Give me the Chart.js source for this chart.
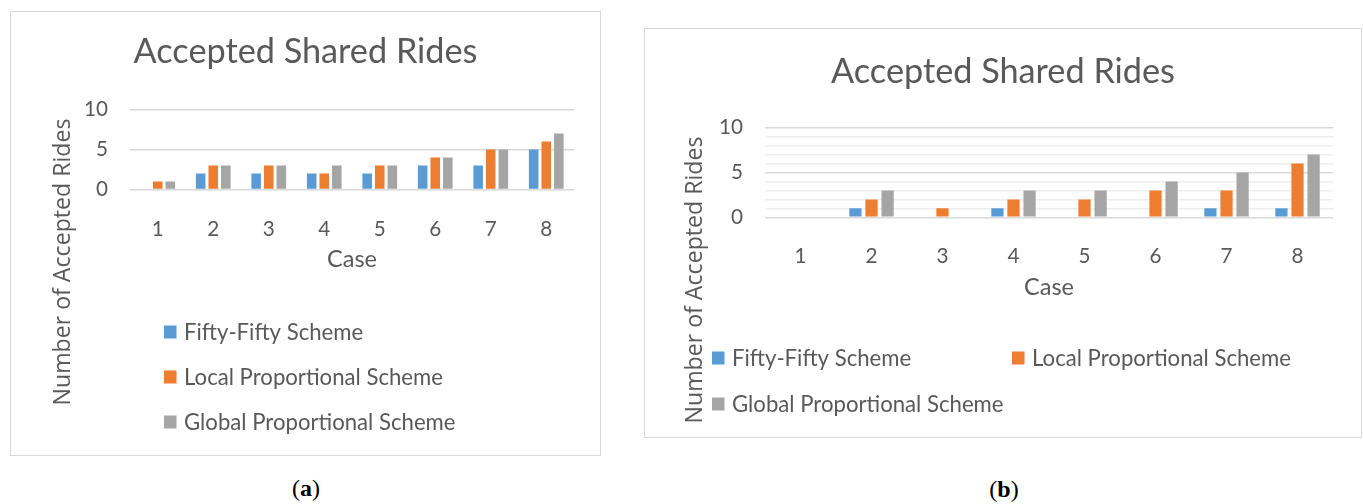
<!DOCTYPE html>
<html>
<head>
<meta charset="utf-8">
<script src="https://cdn.jsdelivr.net/npm/chart.js@4"></script>
<style>
  body { margin: 0; background: #fff; width: 1363px; height: 504px; position: relative; overflow: hidden; }
  .box { position: absolute; border: 1.5px solid #d9d9d9; box-sizing: border-box; }
  canvas { position: absolute; }
  .cap { position: absolute; font: 24px "Liberation Serif", serif; line-height: 24px; color: #000; transform: translateX(-50%); }
</style>
</head>
<body>
<div class="box" style="left:10px;top:11px;width:591px;height:445px"></div>
<canvas id="chartA" width="591" height="445" style="left:10px;top:11px"></canvas>
<div class="box" style="left:644px;top:28px;width:718px;height:410px"></div>
<canvas id="chartB" width="718" height="410" style="left:644px;top:28px"></canvas>
<div class="cap" style="left:306px;top:476px">(<b>a</b>)</div>
<div class="cap" style="left:1004px;top:477px">(<b>b</b>)</div>

<script>
"use strict";

const cases = ["1", "2", "3", "4", "5", "6", "7", "8"];
const seriesNames = ["Fifty-Fifty Scheme", "Local Proportional Scheme", "Global Proportional Scheme"];

// panel (a)
const fiftyA = [0, 2, 2, 2, 2, 3, 3, 5];
const localA = [1, 3, 3, 2, 3, 4, 5, 6];
const globalA = [1, 3, 3, 3, 3, 4, 5, 7];

// panel (b)
const fiftyB = [0, 1, 0, 1, 0, 0, 1, 1];
const localB = [0, 2, 1, 2, 2, 3, 3, 6];
const globalB = [0, 3, 0, 3, 3, 4, 5, 7];

const chartTitle = "Accepted Shared Rides";
const xTitle = "Case";
const yTitle = "Number of Accepted Rides";

const colors = ["#5b9bd5", "#ed7d31", "#a5a5a5"];
const textColor = "#595959";

// font sizes picked so text widths match the picture
const measureCtx = document.createElement("canvas").getContext("2d");
function fitSize(text, width, family) {
  measureCtx.font = "100px " + family;
  return 100 * width / measureCtx.measureText(text).width;
}
const titleSize = fitSize(chartTitle, 344, "Lato");
const legendSize = fitSize(seriesNames[1], 259, "Lato");
const caseSize = fitSize(xTitle, 50, "Lato");
const tickSize = fitSize("10", 24, "Lato");
const yTitleSize = fitSize(yTitle, 287, '"Open Sans"');

function makeDecor(spec) {
  return {
    id: "decor",
    afterDraw(chart) {
      const { ctx, chartArea, width } = chart;

      ctx.save();
      ctx.fillStyle = textColor;
      ctx.textAlign = "center";
      ctx.textBaseline = "alphabetic";
      ctx.font = titleSize + "px Lato";
      ctx.fillText(chartTitle, width / 2, spec.titleY);

      ctx.textBaseline = "middle";
      ctx.font = caseSize + "px Lato";
      ctx.fillText(xTitle, (chartArea.left + chartArea.right) / 2, chartArea.bottom + 70);

      ctx.translate(spec.yTitleX, spec.yTitleY);
      ctx.rotate(-Math.PI / 2);
      ctx.textBaseline = "alphabetic";
      ctx.font = yTitleSize + 'px "Open Sans"';
      ctx.fillText(yTitle, 0, 0);
      ctx.restore();

      ctx.save();
      ctx.textAlign = "left";
      ctx.textBaseline = "middle";
      ctx.font = legendSize + "px Lato";
      chart.data.datasets.forEach((ds, i) => {
        const [lx, ly] = spec.legend[i];
        ctx.fillStyle = ds.backgroundColor;
        ctx.fillRect(lx, ly - 6.5, 12.5, 13);
        ctx.fillStyle = textColor;
        ctx.fillText(ds.label, lx + 20, ly + 1);
      });
      ctx.restore();
    }
  };
}

function buildChart(id, values, spec) {
  const canvas = document.getElementById(id);

  return new Chart(canvas, {
    type: "bar",
    data: {
      labels: cases,
      datasets: values.map((vals, i) => ({
        label: seriesNames[i],
        data: vals,
        backgroundColor: colors[i],
        categoryPercentage: 0.68,
        barPercentage: 0.76
      }))
    },
    options: {
      responsive: false,
      animation: false,
      layout: { padding: { left: 0, top: spec.top, right: canvas.width - spec.right, bottom: 0 } },
      plugins: { legend: { display: false }, tooltip: { enabled: false }, title: { display: false } },
      scales: {
        x: {
          grid: { display: false },
          border: { display: false },
          ticks: { color: textColor, font: { family: "Lato", size: tickSize }, padding: 19, maxRotation: 0 },
          afterFit: scale => { scale.height = canvas.height - spec.bottom; }
        },
        y: {
          min: 0,
          max: 10,
          border: { display: false },
          grid: {
            drawTicks: false,
            lineWidth: 1.5,
            color: c => (c.tick.value % 5 === 0 ? "#d9d9d9" : "#eeeeee")
          },
          ticks: {
            stepSize: spec.step,
            autoSkip: false,
            color: textColor,
            font: { family: "Lato", size: tickSize },
            padding: 22,
            callback: v => (v % 5 === 0 ? v : "")
          },
          afterFit: scale => { scale.width = spec.left; }
        }
      }
    },
    plugins: [makeDecor(spec)]
  });
}

buildChart("chartA", [fiftyA, localA, globalA], {
  left: 120, right: 564, top: 98.5, bottom: 178.5, step: 5,
  titleY: 52, yTitleX: 60, yTitleY: 251,
  legend: [[154, 321], [154, 366], [154, 411]]
});

buildChart("chartB", [fiftyB, localB, globalB], {
  left: 121, right: 689, top: 99.7, bottom: 189.3, step: 1,
  titleY: 55, yTitleX: 58, yTitleY: 252,
  legend: [[68, 330], [368, 330], [68, 376]]
});
</script>
</body>
</html>
